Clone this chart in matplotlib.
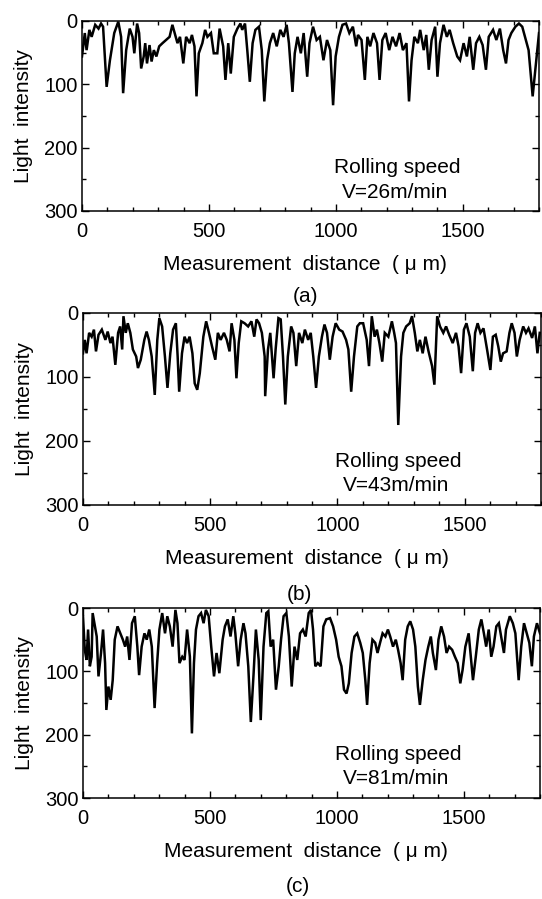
import matplotlib.pyplot as plt
from matplotlib.ticker import MultipleLocator

plt.rcParams['font.family'] = ['Liberation Sans', 'DejaVu Sans']

# (a) V=26m/min
xa = [0, 11, 18, 29, 38, 52, 65, 75, 83, 97, 110, 127, 143, 154, 162, 174, 188, 199, 206, 217,
      225, 233, 243, 249, 256, 266, 274, 283, 293, 304, 317, 331, 345, 356, 365, 376, 386, 399,
      410, 424, 433, 443, 451, 460, 474, 485, 494, 508, 519, 533, 542, 556, 565, 576, 586, 598,
      612, 624, 631, 642, 651, 661, 672, 683, 697, 708, 718, 729, 740, 753, 767, 781, 794, 806,
      815, 829, 838, 849, 862, 873, 887, 896, 910, 924, 937, 951, 965, 978, 989, 999, 1012, 1026,
      1040, 1053, 1067, 1080, 1087, 1101, 1114, 1124, 1135, 1148, 1162, 1172, 1183, 1196, 1210,
      1223, 1237, 1251, 1264, 1278, 1288, 1298, 1309, 1323, 1332, 1346, 1356, 1366, 1377, 1391,
      1400, 1410, 1424, 1437, 1448, 1462, 1478, 1489, 1503, 1516, 1527, 1541, 1552, 1565, 1578,
      1591, 1602, 1619, 1632, 1646, 1659, 1670, 1680, 1691, 1707, 1721, 1734, 1748, 1759, 1775,
      1789, 1800]
ya = [56, 19, 46, 14, 25, 6, 12, 4, 9, 104, 62, 19, 1, 25, 114, 46, 12, 25, 51, 4,
      19, 75, 56, 35, 67, 38, 64, 46, 56, 40, 35, 30, 25, 6, 19, 35, 25, 67,
      25, 35, 22, 40, 119, 51, 35, 14, 25, 19, 51, 51, 12, 40, 93, 35, 83, 25,
      12, 4, 14, 4, 46, 96, 35, 14, 9, 46, 127, 62, 35, 19, 40, 14, 25, 6,
      35, 112, 51, 25, 51, 19, 88, 35, 9, 30, 25, 62, 30, 46, 133, 56, 25, 6,
      4, 19, 9, 40, 22, 30, 93, 25, 40, 19, 35, 93, 30, 19, 46,
      25, 40, 19, 46, 35, 127, 62, 25, 35, 14, 46, 22, 77, 30, 9,
      88, 35, 6, 25, 14, 35, 56, 62, 35, 56, 25, 77, 35, 25, 38,
      77, 25, 14, 30, 12, 46, 67, 30, 19, 9, 4, 9, 30, 46, 119,
      62, 19]

# (b) V=43m/min
xb = [0, 7, 14, 24, 34, 43, 51, 61, 74, 88, 97, 108, 116, 127, 138, 146, 154, 159, 168, 176,
      186, 196, 209, 216, 227, 241, 250, 259, 270, 282, 292, 300, 311, 322, 332, 343, 354, 365,
      372, 378, 389, 399, 409, 419, 430, 439, 449, 459, 473, 484, 495, 507, 520, 530, 541, 554,
      565, 576, 584, 595, 603, 612, 622, 635, 649, 662, 673, 682, 692, 703, 714, 716, 727, 736,
      749, 757, 768, 777, 786, 795, 805, 818, 827, 838, 849, 862, 872, 885, 895, 905, 916, 927,
      939, 949, 959, 970, 981, 993, 1007, 1020, 1034, 1043, 1054, 1065, 1078, 1088, 1101, 1115,
      1124, 1135, 1146, 1155, 1165, 1176, 1186, 1200, 1214, 1223, 1230, 1239, 1250, 1259, 1270,
      1284, 1293, 1304, 1314, 1324, 1335, 1346, 1358, 1372, 1381, 1392, 1403, 1416, 1427, 1439,
      1453, 1466, 1476, 1486, 1497, 1507, 1520, 1532, 1541, 1551, 1562, 1574, 1588, 1601, 1611,
      1622, 1632, 1642, 1651, 1665, 1676, 1685, 1696, 1705, 1716, 1730, 1741, 1751, 1765, 1776,
      1786, 1795]
yb = [63, 42, 63, 31, 37, 26, 60, 34, 26, 42, 29, 47, 37, 81, 31, 21, 57, 5, 31, 16,
      31, 57, 68, 86, 73, 42, 29, 42, 68, 128, 42, 8, 21, 68, 117, 63, 26, 16,
      68, 123, 63, 37, 47, 37, 63, 110, 120, 94, 37, 13, 31, 52, 73, 31, 42, 31,
      42, 60, 16, 42, 102, 47, 13, 16, 21, 13, 37, 10, 16, 31, 68, 130, 57, 31,
      102, 57, 8, 10, 68, 143, 68, 21, 31, 83, 31, 47, 26, 42, 31, 68, 117, 68,
      37, 18, 31, 73, 37, 16, 26, 29, 42, 57, 123, 68, 21, 16, 16, 42,
      83, 5, 37, 26, 47, 76, 31, 37, 13, 31, 47, 175, 68, 31, 21,
      16, 5, 31, 60, 42, 63, 37, 60, 83, 112, 5, 21, 31, 21, 34,
      47, 31, 52, 94, 26, 16, 37, 91, 31, 16, 31, 24, 57, 89, 37,
      34, 52, 76, 63, 60, 31, 16, 31, 68, 42, 21, 31, 24, 39, 21,
      63, 31]

# (c) V=81m/min
xc = [0, 7, 14, 20, 27, 34, 38, 47, 54, 61, 71, 79, 87, 92, 100, 109, 117, 125, 136, 147,
      157, 166, 174, 183, 193, 204, 214, 221, 231, 242, 251, 261, 271, 282, 292, 301, 312, 323,
      332, 342, 353, 364, 372, 380, 391, 400, 410, 421, 429, 437, 445, 455, 465, 475, 484, 495,
      505, 516, 526, 537, 550, 559, 570, 581, 592, 600, 611, 621, 632, 640, 651, 661, 672, 681,
      692, 700, 711, 722, 730, 739, 749, 760, 771, 780, 790, 801, 811, 822, 833, 844, 855, 866,
      877, 889, 898, 906, 915, 925, 936, 947, 958, 973, 985, 997, 1007, 1018, 1028, 1038, 1047,
      1058, 1069, 1080, 1092, 1102, 1112, 1119, 1129, 1140, 1151, 1160, 1170, 1180, 1191, 1201,
      1210, 1221, 1232, 1241, 1251, 1259, 1269, 1279, 1289, 1300, 1309, 1319, 1327, 1338, 1349,
      1360, 1370, 1378, 1390, 1400, 1411, 1422, 1432, 1442, 1454, 1465, 1476, 1486, 1495, 1506,
      1519, 1526, 1536, 1547, 1559, 1569, 1579, 1588, 1598, 1608, 1617, 1628, 1638, 1649, 1658,
      1666, 1681, 1693, 1703, 1716, 1726, 1737, 1748, 1758, 1768, 1776, 1788, 1800]
yc = [13, 66, 82, 34, 92, 77, 8, 29, 45, 108, 71, 34, 87, 161, 124, 145, 114, 50, 29, 40,
      50, 61, 45, 82, 24, 13, 61, 106, 61, 40, 50, 34, 61, 158, 87, 34, 8, 40,
      13, 29, 61, 3, 24, 87, 77, 82, 34, 77, 198, 87, 34, 13, 8, 24, 3, 13,
      61, 108, 71, 103, 50, 29, 18, 45, 13, 40, 92, 50, 24, 40, 92, 180, 103, 34,
      82, 177, 61, 8, 5, 61, 50, 129, 92, 50, 13, 8, 45, 124, 61, 82, 40, 34,
      45, 8, 3, 34, 92, 87, 92, 29, 18, 16, 29, 50, 77, 92, 129, 135, 119,
      71, 45, 40, 55, 71, 114, 153, 87, 50, 55, 71, 55, 40, 45, 34,
      45, 61, 50, 66, 87, 114, 50, 29, 21, 34, 61, 124, 153, 114, 82,
      61, 45, 71, 98, 50, 29, 45, 71, 61, 66, 77, 87, 119, 98, 61,
      40, 71, 114, 77, 34, 18, 40, 61, 34, 77, 61, 29, 24, 50, 71,
      34, 13, 24, 40, 114, 61, 24, 40, 55, 92, 45, 24, 40]

series = [(xa, ya), (xb, yb), (xc, yc)]
speeds = ['V=26m/min', 'V=43m/min', 'V=81m/min']
panel_labels = ['(a)', '(b)', '(c)']

W, H = 542, 899
fig = plt.figure(figsize=(W / 100, H / 100), dpi=100)
# axes boxes in pixels: left, top, right, bottom
boxes_px = [(82, 21, 539, 211),
            (83, 313, 541, 505),
            (83, 608, 540, 798)]
label_pos = [(306, 297), (299, 594), (298, 887)]

for i in range(3):
    l, t, r, b = boxes_px[i]
    ax = fig.add_axes([l / W, 1 - b / H, (r - l) / W, (b - t) / H])
    x, y = series[i]
    ax.plot(x, y, color='black', lw=1.8, solid_joinstyle='miter')
    ax.set_xlim(0, 1800)
    ax.set_ylim(300, 0)
    ax.xaxis.set_major_locator(MultipleLocator(500))
    ax.xaxis.set_minor_locator(MultipleLocator(100))
    ax.yaxis.set_major_locator(MultipleLocator(100))
    ax.yaxis.set_minor_locator(MultipleLocator(50))
    ax.tick_params(which='both', direction='in', top=True, right=True, width=1)
    ax.tick_params(which='major', length=5, labelsize=14.5)
    ax.tick_params(which='minor', length=3)
    ax.tick_params(axis='x', pad=8)
    ax.tick_params(axis='y', pad=3)
    for s in ax.spines.values():
        s.set_linewidth(1.1)
    ax.set_xlabel('Measurement  distance  ( \u03bc m)', fontsize=15, labelpad=10)
    ax.xaxis.label.set_x(0.488)
    ax.set_ylabel('Light  intensity', fontsize=15, labelpad=8)
    ax.text(992, 232, 'Rolling speed', fontsize=15, va='center', ha='left')
    ax.text(1023, 270, speeds[i], fontsize=15, va='center', ha='left')
    px, py = label_pos[i]
    fig.text(px / W, 1 - py / H, panel_labels[i], fontsize=15, ha='center', va='center')

plt.savefig('out.png', dpi=100)
